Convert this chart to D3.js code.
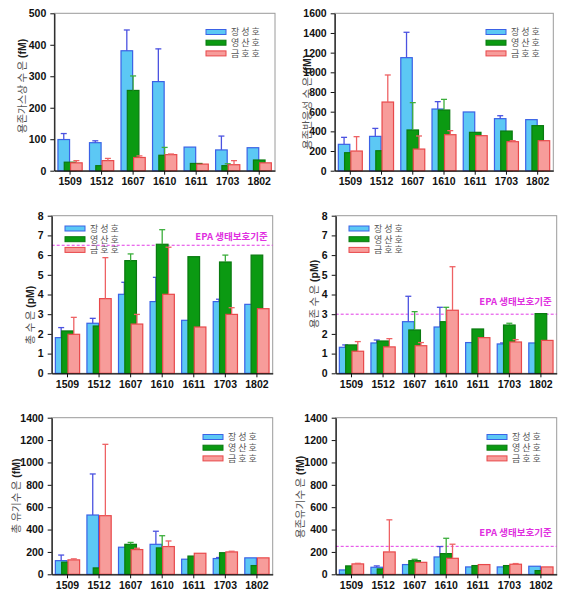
<!DOCTYPE html>
<html><head><meta charset="utf-8">
<script src="https://cdn.jsdelivr.net/npm/d3@7"></script>
<style>
body{margin:0;background:#fff;}
svg{display:block;}
</style></head>
<body>
<script>
const months = ["1509","1512","1607","1610","1611","1703","1802"];
const seriesNames = ["장 성 호","영 산 호","금 호 호"];

// Panel 1: 용존가스상 수은 (fM)
const dgmJang = [99,89,381,283,75,66,73];
const dgmJangErr = [19,6,66,104,0,44,0];
const dgmYeong = [27,16,255,49,23,16,34];
const dgmYeongErr = [0,0,46,25,0,6,0];
const dgmGeum = [25,32,42,51,21,19,25];
const dgmGeumErr = [7,7,5,2,0,13,0];
const dgmTicks = [0,100,200,300,400,500];

// Panel 2: 용존반응성 수은 (fM)
const drmJang = [268,349,1149,627,597,529,519];
const drmJangErr = [71,81,258,75,0,30,0];
const drmYeong = [183,203,414,617,390,403,458];
const drmYeongErr = [0,0,278,108,0,0,0];
const drmGeum = [200,698,220,366,356,295,305];
const drmGeumErr = [146,275,133,41,0,10,0];
const drmTicks = [0,200,400,600,800,1000,1200,1400,1600];

// Panel 3: 총 수은 (pM)
const thgJang = [1.81,2.54,4.01,3.64,2.69,3.64,3.50];
const thgJangErr = [0.51,0.25,0.61,1.23,0,0.12,0];
const thgYeong = [2.15,2.40,5.72,6.55,5.92,5.65,6.0];
const thgYeongErr = [0,0,0.34,0.74,0,0.35,0];
const thgGeum = [1.98,3.79,2.50,4.01,2.35,2.99,3.28];
const thgGeumErr = [0.86,2.08,0.49,2.39,0,0.34,0];
const thgTicks = [0,1,2,3,4,5,6,7,8];
const thgEPA = 6.5;

// Panel 4: 용존 수은 (pM)
const dhgJang = [1.32,1.54,2.62,2.35,1.56,1.49,1.54];
const dhgJangErr = [0.12,0.15,1.29,1.0,0,0.05,0];
const dhgYeong = [1.44,1.64,2.20,2.62,2.25,2.45,3.03];
const dhgYeongErr = [0,0,0.93,0.73,0,0.09,0];
const dhgGeum = [1.12,1.34,1.40,3.20,1.81,1.59,1.67];
const dhgGeumErr = [0.49,0.42,0.16,2.21,0,0.12,0];
const dhgTicks = [0,1,2,3,4,5,6,7,8];
const dhgEPA = 3.0;

// Panel 5: 총 유기수은 (fM)
const tmhgJang = [122,530,242,268,135,141,147];
const tmhgJangErr = [50,367,0,117,0,9,0];
const tmhgYeong = [108,57,268,236,163,193,78];
const tmhgYeongErr = [0,0,17,109,0,0,0];
const tmhgGeum = [129,524,221,248,188,200,147];
const tmhgGeumErr = [9,638,12,50,0,6,0];
const tmhgTicks = [0,200,400,600,800,1000,1200,1400];

// Panel 6: 용존유기수은 (fM)
const dmhgJang = [39,63,87,155,66,66,72];
const dmhgJangErr = [0,12,0,93,0,0,0];
const dmhgYeong = [75,48,122,185,78,78,33];
const dmhgYeongErr = [0,0,12,137,0,0,0];
const dmhgGeum = [93,200,107,143,87,90,66];
const dmhgGeumErr = [5,287,0,126,0,6,0];
const dmhgTicks = [0,200,400,600,800,1000,1200,1400];
const dmhgEPA = 250;

const epaLabel = "EPA 생태보호기준";

const fills = ["#5cc8f4","#0b9a12","#f79c9a"];
const strokes = ["#3a62e6","#0a7a10","#e8484a"];
const errColors = ["#4b52e0","#3cae3c","#ee6264"];
const KR = "'Noto Sans CJK KR','Noto Sans',sans-serif";
const NUM = "'Liberation Sans',Arial,sans-serif";

const svg = d3.select("body").append("svg").attr("width",569).attr("height",597);
svg.append("rect").attr("width",569).attr("height",597).attr("fill","#fff");

function drawPanel(p){
  const g = svg.append("g");
  const x = d3.scaleBand().domain(months).range([p.L,p.R]).paddingInner(0.2).paddingOuter(0.1);
  const bw = x.bandwidth()/2;
  const off = d3.scalePoint().domain([0,1,2]).range([0,bw]);
  const y = d3.scaleLinear().domain([0,p.ticks[p.ticks.length-1]]).range([p.B,p.T]);

  // frame
  g.append("rect").attr("x",p.L).attr("y",p.T).attr("width",p.R-p.L).attr("height",p.B-p.T)
    .attr("fill","none").attr("stroke","#9a9a9a").attr("stroke-width",1);

  // EPA line
  if(p.epa!=null){
    g.append("line").attr("x1",p.L).attr("x2",p.R).attr("y1",y(p.epa)).attr("y2",y(p.epa))
      .attr("stroke","#e23be6").attr("stroke-width",1).attr("stroke-dasharray","3,2");
    g.append("text").attr("x",p.R-5).attr("y",y(p.epa)-p.epaDy).attr("text-anchor","end")
      .attr("font-family",KR).attr("font-weight","bold").attr("font-size","9.5px")
      .attr("fill","#e02fe0").text(epaLabel);
  }

  // bars
  p.series.forEach((s,si)=>{
    const sg = g.append("g");
    sg.selectAll("rect").data(months).join("rect")
      .attr("x",(m)=>x(m)+off(si)+0.5)
      .attr("y",(m,i)=>y(s.v[i]))
      .attr("width",bw-1)
      .attr("height",(m,i)=>y(0)-y(s.v[i]))
      .attr("fill",fills[si]).attr("stroke",strokes[si]).attr("stroke-width",1.2);
    const eg = g.append("g").attr("stroke",errColors[si]).attr("stroke-width",1.3);
    months.forEach((m,i)=>{
      if(!s.e[i]) return;
      const cx = x(m)+off(si)+bw/2;
      eg.append("line").attr("x1",cx).attr("x2",cx).attr("y1",y(s.v[i])).attr("y2",y(s.v[i]+s.e[i]));
      eg.append("line").attr("x1",cx-3).attr("x2",cx+3).attr("y1",y(s.v[i]+s.e[i])).attr("y2",y(s.v[i]+s.e[i]));
    });
  });

  // axes
  const ya = g.append("g").attr("transform",`translate(${p.L},0)`)
    .call(d3.axisLeft(y).tickValues(p.ticks).tickFormat(d3.format("d")).tickSize(4).tickSizeOuter(0).tickPadding(4));
  const xa = g.append("g").attr("transform",`translate(0,${p.B})`)
    .call(d3.axisBottom(x).tickSize(4).tickSizeOuter(0).tickPadding(3));
  [ya,xa].forEach(a=>{
    a.select(".domain").attr("stroke","#111").attr("stroke-width",1.2);
    a.selectAll(".tick line").attr("stroke","#111");
    a.selectAll("text").attr("font-family",NUM).attr("font-weight","bold").attr("font-size","10.5px").attr("fill","#111");
  });

  // y title
  const t = g.append("text").attr("transform",`translate(${p.tx},${p.ty}) rotate(-90)`)
    .attr("text-anchor","middle").attr("dy","0.35em");
  t.append("tspan").attr("font-family",KR).attr("font-size","10.5px").attr("fill","#555").text(p.title);
  t.append("tspan").attr("font-family",NUM).attr("font-weight","bold").attr("font-size","10.5px")
    .attr("fill","#222").text(" "+p.unit);

  // legend
  const lg = g.append("g");
  seriesNames.forEach((n,i)=>{
    const ly = p.legY + i*10.7;
    lg.append("rect").attr("x",p.legX).attr("y",ly-2.5).attr("width",20).attr("height",5)
      .attr("fill",fills[i]).attr("stroke",strokes[i]).attr("stroke-width",1);
    lg.append("text").attr("x",p.legX+25).attr("y",ly+3.3)
      .attr("font-family",KR).attr("font-size","9px").attr("fill","#555").text(n);
  });
}

const topT=13.3, topB=170.7, midT=215.7, midB=373.3, botT=417.7, botB=574.3;

drawPanel({L:54.3,R:275,T:topT,B:topB,ticks:dgmTicks,title:"용존가스상 수 은",unit:"(fM)",tx:20,ty:86,
  legX:206,legY:32,
  series:[{v:dgmJang,e:dgmJangErr},{v:dgmYeong,e:dgmYeongErr},{v:dgmGeum,e:dgmGeumErr}]});
drawPanel({L:334.7,R:553.3,T:topT,B:topB,ticks:drmTicks,title:"용존반응성 수 은",unit:"(fM)",tx:305,ty:102,
  legX:486,legY:32,
  series:[{v:drmJang,e:drmJangErr},{v:drmYeong,e:drmYeongErr},{v:drmGeum,e:drmGeumErr}]});
drawPanel({L:51.7,R:272.7,T:midT,B:midB,ticks:thgTicks,title:"총 수 은",unit:"(pM)",tx:28,ty:315,
  legX:65,legY:228.5,epa:thgEPA,epaDy:5,
  series:[{v:thgJang,e:thgJangErr},{v:thgYeong,e:thgYeongErr},{v:thgGeum,e:thgGeumErr}]});
drawPanel({L:335.7,R:556.7,T:midT,B:midB,ticks:dhgTicks,title:"용존 수 은",unit:"(pM)",tx:312,ty:294,
  legX:349,legY:228.5,epa:dhgEPA,epaDy:9,
  series:[{v:dhgJang,e:dhgJangErr},{v:dhgYeong,e:dhgYeongErr},{v:dhgGeum,e:dhgGeumErr}]});
drawPanel({L:51.7,R:272.7,T:botT,B:botB,ticks:tmhgTicks,title:"총 유기수 은",unit:"(fM)",tx:14,ty:496,
  legX:203,legY:437,
  series:[{v:tmhgJang,e:tmhgJangErr},{v:tmhgYeong,e:tmhgYeongErr},{v:tmhgGeum,e:tmhgGeumErr}]});
drawPanel({L:335.7,R:556.7,T:botT,B:botB,ticks:dmhgTicks,title:"용존유기수 은",unit:"(fM)",tx:298,ty:497,
  legX:487,legY:437,epa:dmhgEPA,epaDy:10,
  series:[{v:dmhgJang,e:dmhgJangErr},{v:dmhgYeong,e:dmhgYeongErr},{v:dmhgGeum,e:dmhgGeumErr}]});
</script>
</body></html>
